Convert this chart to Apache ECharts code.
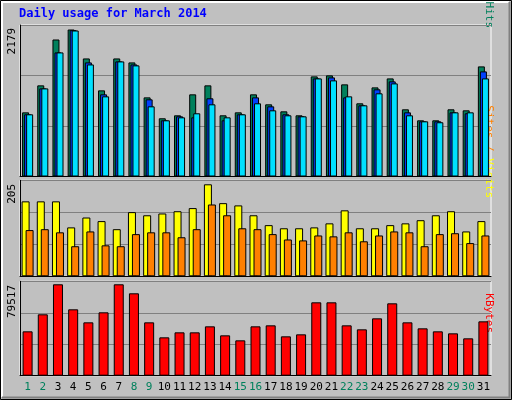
<!DOCTYPE html>
<html><head><meta charset="utf-8">
<script src="https://cdn.jsdelivr.net/npm/echarts@6/dist/echarts.min.js"></script>
<style>html,body{margin:0;padding:0;background:#c0c0c0}#c{width:512px;height:400px}</style>
</head><body><div id="c"></div>
<script>
const days = Array.from({length:31},(_,i)=>String(i+1));
const weekend = ['1','2','8','9','15','16','22','23','29','30'];
const hits = [951,1351,2031,2179,1750,1277,1750,1691,1173,863,907,1218,1351,907,951,1218,1070,966,907,1484,1499,1366,1085,1321,1454,996,833,833,996,981,1632];
const files = [922,1306,1839,2169,1691,1218,1706,1661,1144,833,892,877,1159,833,922,1173,1040,922,892,1454,1469,1173,1055,1292,1410,951,818,818,951,937,1558];
const pages = [922,1306,1839,2164,1661,1188,1706,1647,1040,833,877,937,1070,877,922,1085,981,907,892,1454,1425,1188,1055,1233,1380,907,818,804,951,951,1454];
const visits = [167,167,167,109,131,123,105,143,136,140,145,152,205,163,158,136,114,107,107,109,118,147,107,107,114,118,125,136,145,100,123];
const sites = [103,105,98,67,100,69,67,94,98,98,87,105,160,136,107,105,94,82,80,91,89,98,78,91,100,98,67,94,96,74,91];
const kbytes = [38600,53400,79517,57750,46430,55140,79517,71680,46430,33370,37730,37730,42950,35110,30760,42950,43820,34240,35980,63840,63840,43820,40340,49910,62970,46430,41210,38600,36850,32500,47300];
const maxLabels = ['2179','205','79517'];
const title = 'Daily usage for March 2014';

const font = 'DejaVu Sans Mono';
const grids = [
  {left:20,right:21,top:25,height:151.5},
  {left:20,right:21,top:180.3,height:96},
  {left:20,right:21,top:281.3,height:94.4}
];
const ymax = [2179*151.5/147, 205*96/92, 79517*94.4/91.4];
function xAx(i){return {type:'category',gridIndex:i,data:days,
  axisTick:{show:false},axisLine:{show:true,lineStyle:{color:'#000',width:1}},
  axisLabel:{show:i===2,interval:0,margin:6,fontFamily:font,fontSize:11,
    formatter:v=>weekend.includes(v)?'{w|'+v+'}':'{n|'+v+'}',
    rich:{w:{color:'#00805c',fontFamily:font,fontSize:11},n:{color:'#000',fontFamily:font,fontSize:11}}}};}
function yAx(i){return {type:'value',gridIndex:i,min:0,max:ymax[i],interval:ymax[i]/3,
  axisLabel:{show:false},axisTick:{show:false},axisLine:{show:true,lineStyle:{color:'#000'}},
  splitLine:{show:true,lineStyle:{color:'#808080',width:1}}};}
const bs = c=>({color:c,borderColor:'#000',borderWidth:1});
const chart = echarts.init(document.getElementById('c'),null,{renderer:'canvas'});
chart.setOption({
  backgroundColor:'#c0c0c0',animation:false,
  grid:grids.map(g=>Object.assign({show:true,backgroundColor:'#c0c0c0',borderColor:'#fff',borderWidth:1},g)),
  xAxis:[0,1,2].map(xAx), yAxis:[0,1,2].map(yAx),
  series:[
    {type:'bar',xAxisIndex:0,yAxisIndex:0,data:hits,barWidth:7,barGap:'-71%',itemStyle:bs('#00805c')},
    {type:'bar',xAxisIndex:0,yAxisIndex:0,data:files,barWidth:7,barGap:'-71%',itemStyle:bs('#0040ff')},
    {type:'bar',xAxisIndex:0,yAxisIndex:0,data:pages,barWidth:7,barGap:'-71%',itemStyle:bs('#00e0ff')},
    {type:'bar',xAxisIndex:1,yAxisIndex:1,data:visits,barWidth:8,barGap:'-50%',itemStyle:bs('#ffff00')},
    {type:'bar',xAxisIndex:1,yAxisIndex:1,data:sites,barWidth:8,barGap:'-50%',itemStyle:bs('#ff8000')},
    {type:'bar',xAxisIndex:2,yAxisIndex:2,data:kbytes,barWidth:10,itemStyle:bs('#ff0000')}
  ],
  graphic:[
    {type:'rect',shape:{x:0.5,y:0.5,width:511,height:399},style:{fill:'none',stroke:'#000',lineWidth:1},z:-1},
    {type:'polyline',shape:{points:[[2,397],[2,2],[509,2]]},style:{fill:'none',stroke:'#fff',lineWidth:2}},
    {type:'polyline',shape:{points:[[2,397.5],[509.5,397.5],[509.5,2]]},style:{fill:'none',stroke:'#808080',lineWidth:2}},
    {type:'text',left:19,top:8,style:{text:title,fill:'#0000ff',font:'bold 12px "'+font+'"'}},
    {type:'text',x:18,y:28,rotation:Math.PI/2,style:{text:maxLabels[0],fill:'#000',font:'11px "'+font+'"',align:'right',verticalAlign:'bottom'}},
    {type:'text',x:18,y:184,rotation:Math.PI/2,style:{text:maxLabels[1],fill:'#000',font:'11px "'+font+'"',align:'right',verticalAlign:'bottom'}},
    {type:'text',x:18,y:285,rotation:Math.PI/2,style:{text:maxLabels[2],fill:'#000',font:'11px "'+font+'"',align:'right',verticalAlign:'bottom'}},
    {type:'text',x:494,y:28,rotation:-Math.PI/2,style:{text:'{a|Pages} / {b|Files} / {c|Hits}',font:'11px "'+font+'"',fill:'#00805c',align:'right',verticalAlign:'top',
      rich:{a:{fill:'#00c0c0',font:'11px "'+font+'"'},b:{fill:'#0040ff',font:'11px "'+font+'"'},c:{fill:'#00805c',font:'11px "'+font+'"'}}}},
    {type:'text',x:494,y:198,rotation:-Math.PI/2,style:{text:'{a|Sites} / {b|Visits}',font:'11px "'+font+'"',fill:'#ff8000',align:'right',verticalAlign:'top',
      rich:{a:{fill:'#ff8000',font:'11px "'+font+'"'},b:{fill:'#ffff00',font:'11px "'+font+'"'}}}},
    {type:'text',x:494,y:333,rotation:-Math.PI/2,style:{text:'KBytes',fill:'#ff0000',font:'11px "'+font+'"',align:'right',verticalAlign:'top'}}
  ]
});
</script></body></html>
